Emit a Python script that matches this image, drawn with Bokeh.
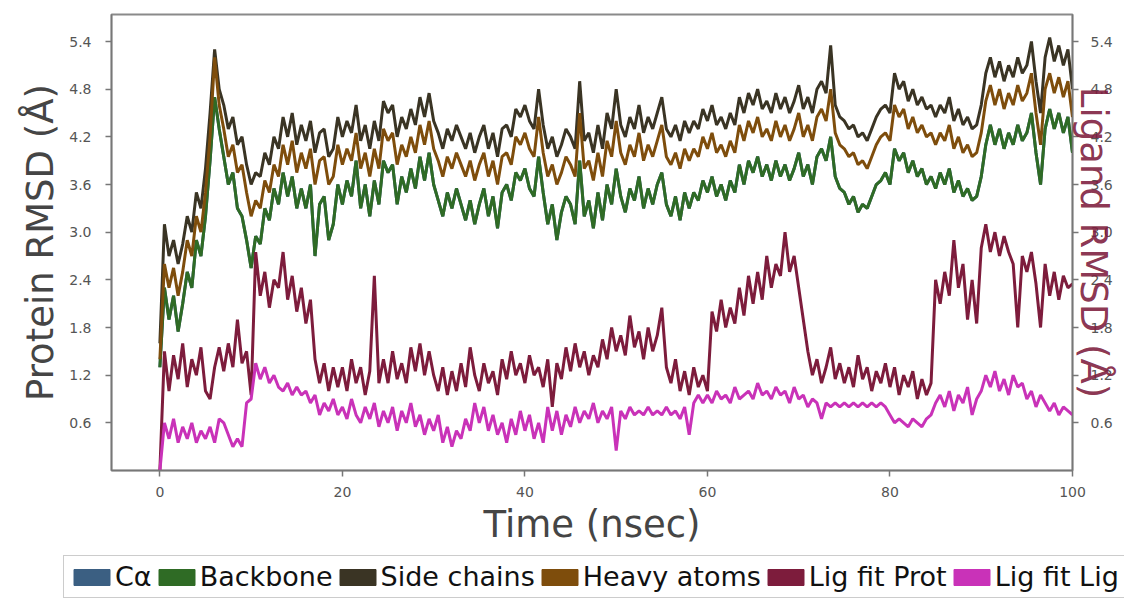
from bokeh.plotting import figure
from bokeh.models import (ColumnDataSource, Range1d, LinearAxis, FixedTicker,
                          Legend, LegendItem)
from bokeh.embed import file_html
from bokeh.resources import INLINE

# ---------------- data (0.5 ns steps) ----------------
time_ns = [i * 0.5 for i in range(201)]

side_chains = [
    1.6, 3.1, 2.7, 2.9, 2.6, 2.85, 3.2, 3.0, 3.5, 3.3,
    3.8, 4.5, 5.3, 4.8, 4.6, 4.3, 4.45, 4.1, 4.2, 3.85,
    3.6, 3.75, 3.7, 4.0, 3.85, 4.2, 4.05, 4.45, 4.2, 4.5,
    4.1, 4.35, 4.15, 4.4, 4.0, 4.25, 4.3, 3.95, 4.05, 4.45,
    4.2, 4.4, 4.25, 4.6, 4.15, 4.35, 4.05, 4.4, 4.15, 4.65,
    4.5, 4.6, 4.2, 4.45, 4.3, 4.55, 4.35, 4.7, 4.45, 4.75,
    4.4, 4.25, 4.05, 4.3, 4.15, 4.35, 4.2, 4.05, 4.25, 4.0,
    4.2, 4.35, 4.05, 4.25, 3.95, 4.3, 4.35, 4.2, 4.55, 4.45,
    4.6, 4.4, 4.3, 4.8, 4.35, 4.05, 4.2, 3.95, 4.1, 4.3,
    4.2, 4.05, 4.9, 4.15, 4.25, 4.0, 4.35, 4.05, 4.5, 4.3,
    4.8, 4.35, 4.2, 4.45, 4.3, 4.6, 4.25, 4.45, 4.3, 4.5,
    4.7, 4.3, 4.2, 4.35, 4.15, 4.4, 4.25, 4.4, 4.3, 4.55,
    4.4, 4.6, 4.35, 4.45, 4.3, 4.5, 4.35, 4.7, 4.5, 4.75,
    4.6, 4.8, 4.55, 4.65, 4.5, 4.75, 4.55, 4.7, 4.5, 4.65,
    4.85, 4.55, 4.7, 4.5, 4.8, 4.9, 4.75, 5.35, 4.6, 4.45,
    4.4, 4.3, 4.35, 4.2, 4.25, 4.15, 4.3, 4.45, 4.55, 4.6,
    4.5, 5.0, 4.8, 4.9, 4.65, 4.8, 4.6, 4.7, 4.55, 4.6,
    4.45, 4.6, 4.5, 4.7, 4.4, 4.55, 4.35, 4.45, 4.3, 4.35,
    4.6, 5.0, 5.2, 4.95, 5.15, 4.9, 5.1, 4.95, 5.2, 5.0,
    5.1, 5.4, 4.9, 4.5, 5.2, 5.45, 5.15, 5.35, 5.1, 5.3,
    4.8,
]

heavy_atoms = [
    1.4, 2.6, 2.3, 2.55, 2.2, 2.5, 2.9, 2.7, 3.2, 3.0,
    3.5, 4.2, 5.2, 4.6, 4.3, 3.95, 4.1, 3.75, 3.85, 3.5,
    3.2, 3.4, 3.3, 3.65, 3.5, 3.85, 3.7, 4.1, 3.85, 4.15,
    3.75, 4.0, 3.8, 4.05, 3.6, 3.9, 3.95, 3.6, 3.7, 4.1,
    3.85, 4.05, 3.9, 4.25, 3.8, 4.0, 3.7, 4.05, 3.8, 4.3,
    4.15, 4.25, 3.85, 4.1, 3.95, 4.2, 4.0, 4.35, 4.1, 4.4,
    4.05, 3.9, 3.7, 3.95, 3.8, 4.0, 3.85, 3.7, 3.9, 3.65,
    3.85, 4.0, 3.7, 3.9, 3.6, 3.95, 4.0, 3.85, 4.2, 4.1,
    4.25, 4.05, 3.95, 4.45, 4.0, 3.7, 3.85, 3.6, 3.75, 3.95,
    3.85, 3.7, 4.5, 3.8, 3.9, 3.65, 4.0, 3.7, 4.15, 3.95,
    4.4, 4.0, 3.85, 4.1, 3.95, 4.25, 3.9, 4.1, 3.95, 4.15,
    4.35, 3.95, 3.85, 4.0, 3.8, 4.05, 3.9, 4.05, 3.95, 4.2,
    4.05, 4.25, 4.0, 4.1, 3.95, 4.15, 4.0, 4.35, 4.15, 4.4,
    4.25, 4.45, 4.2, 4.3, 4.15, 4.4, 4.2, 4.35, 4.15, 4.3,
    4.5, 4.2, 4.35, 4.15, 4.45, 4.55, 4.4, 4.8, 4.25, 4.1,
    4.05, 3.95, 4.0, 3.85, 3.9, 3.8, 3.95, 4.1, 4.2, 4.25,
    4.15, 4.6, 4.45, 4.55, 4.3, 4.45, 4.25, 4.35, 4.2, 4.25,
    4.1, 4.25, 4.15, 4.35, 4.05, 4.2, 4.0, 4.1, 3.95, 4.0,
    4.25, 4.65, 4.85, 4.6, 4.8, 4.55, 4.75, 4.6, 4.85, 4.65,
    4.75, 5.0, 4.5, 4.1, 4.8, 5.0, 4.75, 4.95, 4.7, 4.9,
    4.45,
]

backbone = [
    1.3, 2.3, 1.9, 2.2, 1.75, 2.1, 2.5, 2.3, 2.9, 2.7,
    3.2, 3.9, 4.7, 4.3, 3.95, 3.6, 3.75, 3.3, 3.2, 2.9,
    2.55, 2.95, 2.85, 3.3, 3.15, 3.55, 3.35, 3.75, 3.45, 3.7,
    3.3, 3.55, 3.3, 3.6, 2.7, 3.35, 3.45, 2.9, 3.1, 3.6,
    3.35, 3.65, 3.45, 3.9, 3.3, 3.6, 3.2, 3.65, 3.35, 3.9,
    3.75, 3.85, 3.35, 3.7, 3.5, 3.8, 3.55, 3.95, 3.65, 4.0,
    3.6, 3.4, 3.2, 3.5, 3.3, 3.55, 3.35, 3.15, 3.4, 3.1,
    3.35, 3.55, 3.2, 3.45, 3.05, 3.5, 3.6, 3.4, 3.75, 3.65,
    3.8, 3.55, 3.45, 3.95, 3.5, 3.1, 3.35, 2.9, 3.25, 3.45,
    3.35, 3.1, 3.9, 3.2, 3.4, 3.05, 3.5, 3.15, 3.6, 3.35,
    3.8, 3.45, 3.25, 3.55, 3.4, 3.7, 3.3, 3.55, 3.35, 3.6,
    3.75, 3.35, 3.2, 3.45, 3.15, 3.5, 3.3, 3.5, 3.4, 3.65,
    3.5, 3.7, 3.45, 3.6, 3.4, 3.65, 3.5, 3.85, 3.6, 3.9,
    3.75, 3.95, 3.7, 3.85, 3.65, 3.9, 3.7, 3.85, 3.65, 3.8,
    4.0, 3.7, 3.85, 3.6, 3.95, 4.05, 3.9, 4.2, 3.7, 3.55,
    3.5, 3.35, 3.45, 3.25, 3.35, 3.3, 3.45, 3.6, 3.65, 3.75,
    3.6, 4.05, 3.9, 4.0, 3.75, 3.9, 3.7, 3.8, 3.6, 3.7,
    3.55, 3.75, 3.6, 3.8, 3.5, 3.65, 3.45, 3.55, 3.4, 3.45,
    3.7, 4.1, 4.35, 4.1, 4.3, 4.05, 4.25, 4.1, 4.35, 4.15,
    4.25, 4.5, 4.0, 3.6, 4.3, 4.55, 4.3, 4.5, 4.25, 4.45,
    4.0,
]

# C-alpha trace lies under the backbone trace in the picture
c_alpha = list(backbone)

lig_fit_prot = [
    0.0, 1.5, 1.0, 1.45, 1.15, 1.6, 1.05, 1.4, 1.2, 1.55,
    1.0, 0.9, 1.3, 1.55, 1.25, 1.6, 1.3, 1.9, 1.35, 1.5,
    0.95, 2.75, 2.2, 2.5, 2.05, 2.4, 2.3, 2.75, 2.15, 2.45,
    2.0, 2.3, 1.85, 2.15, 1.4, 1.1, 1.35, 1.0, 1.3, 1.05,
    1.3, 1.0, 1.4, 1.1, 1.3, 0.95, 1.25, 2.45, 1.1, 1.4,
    1.1, 1.5, 1.15, 1.35, 1.1, 1.55, 1.25, 1.6, 1.2, 1.5,
    1.2, 1.0, 1.3, 0.95, 1.25, 1.0, 1.35, 1.05, 1.55, 1.2,
    1.0, 1.35, 1.1, 1.25, 0.95, 1.4, 1.15, 1.5, 1.2, 1.35,
    1.1, 1.45, 1.2, 1.3, 1.05, 1.4, 0.8, 1.35, 1.15, 1.55,
    1.25, 1.6, 1.3, 1.5, 1.2, 1.45, 1.3, 1.65, 1.4, 1.8,
    1.5, 1.7, 1.45, 1.95, 1.55, 1.75, 1.4, 1.8, 1.5, 1.7,
    2.05, 1.3, 1.1, 1.4, 1.0, 1.25, 0.95, 1.3, 1.05, 1.2,
    1.0, 2.0, 1.75, 2.15, 1.8, 2.05, 1.85, 2.3, 1.95, 2.45,
    2.1, 2.5, 2.15, 2.7, 2.3, 2.6, 2.45, 3.0, 2.5, 2.7,
    2.3, 1.9, 1.5, 1.2, 1.4, 1.1, 1.3, 1.55, 1.15, 1.35,
    1.1, 1.3, 1.05, 1.45, 1.15, 1.3, 1.0, 1.25, 1.1, 1.35,
    1.05, 1.3, 0.95, 1.2, 1.05, 1.25, 0.9, 1.15, 0.95, 1.1,
    2.4, 2.1, 2.5, 2.2, 2.9, 2.3, 2.6, 1.9, 2.4, 1.85,
    2.8, 3.1, 2.75, 3.0, 2.7, 2.95, 2.75, 2.6, 1.8, 2.7,
    2.5, 2.75, 2.35, 1.8, 2.6, 2.2, 2.5, 2.15, 2.45, 2.3,
    2.35,
]

lig_fit_lig = [
    0.0, 0.6, 0.4, 0.65, 0.35, 0.55, 0.4, 0.6, 0.35, 0.5,
    0.4, 0.55, 0.35, 0.65, 0.6, 0.45, 0.3, 0.4, 0.3, 0.85,
    0.9, 1.35, 1.15, 1.3, 1.1, 1.2, 1.05, 1.0, 1.1, 0.95,
    1.05, 0.95, 1.0, 0.85, 0.95, 0.7, 0.85, 0.75, 0.9, 0.7,
    0.8, 0.65, 0.9, 0.7, 0.6, 0.8, 0.65, 0.85, 0.55, 0.75,
    0.6, 0.8, 0.5, 0.75, 0.6, 0.85, 0.55, 0.7, 0.45, 0.65,
    0.5, 0.7, 0.35, 0.55, 0.3, 0.5, 0.4, 0.65, 0.5, 0.85,
    0.6, 0.8, 0.5, 0.7, 0.45, 0.6, 0.35, 0.65, 0.45, 0.75,
    0.5, 0.7, 0.4, 0.6, 0.35, 0.8, 0.5, 0.75, 0.45, 0.7,
    0.55, 0.8, 0.6, 0.75, 0.65, 0.85, 0.6, 0.75, 0.65, 0.8,
    0.25, 0.75, 0.65, 0.8, 0.7, 0.75, 0.7, 0.8, 0.7, 0.75,
    0.7, 0.8, 0.7, 0.75, 0.65, 0.8, 0.45, 0.85, 0.95, 0.85,
    0.95, 0.85, 1.0, 0.9, 0.95, 0.85, 1.05, 0.9, 0.95, 1.0,
    0.9, 1.1, 0.95, 1.0, 0.9, 1.05, 0.95, 1.0, 0.85, 1.05,
    0.9, 0.95, 0.8, 0.9, 0.85, 0.65, 0.85, 0.8, 0.85, 0.8,
    0.85, 0.8, 0.85, 0.8, 0.85, 0.8, 0.85, 0.8, 0.85, 0.8,
    0.7, 0.6, 0.65, 0.6, 0.55, 0.65, 0.6, 0.55, 0.65, 0.7,
    0.85, 0.95, 0.8, 1.0, 0.75, 0.95, 0.85, 1.05, 0.7, 0.9,
    1.0, 1.2, 1.05, 1.25, 1.0, 1.15, 0.95, 1.2, 1.05, 1.1,
    0.9, 1.0, 0.8, 0.95, 0.85, 0.75, 0.85, 0.7, 0.8, 0.75,
    0.7,
]

series_names = ["Cα", "Backbone", "Side chains", "Heavy atoms", "Lig fit Prot", "Lig fit Lig"]
series_colors = ["#3b5f82", "#2f6b25", "#3a3424", "#7e4d0c", "#7d1c3c", "#c932b8"]

x_ticks = [0, 20, 40, 60, 80, 100]
y_ticks = [0.6, 1.2, 1.8, 2.4, 3.0, 3.6, 4.2, 4.8, 5.4]
y_tick_labels = ["0.6", "1.2", "1.8", "2.4", "3.0", "3.6", "4.2", "4.8", "5.4"]

# ---------------- main figure ----------------
FONT = "DejaVu Sans"
W = 1124
p = figure(width=W, height=555, output_backend="svg", toolbar_location=None,
           x_range=Range1d(-5.3, 100), y_range=Range1d(0, 5.74),
           min_border_left=111, min_border_right=W - 1072, min_border_top=14,
           min_border_bottom=85)
p.extra_y_ranges = {"lig": Range1d(0, 5.74)}
p.grid.visible = False
p.outline_line_color = "#8a8a8a"
p.outline_line_width = 2
p.background_fill_color = "white"
p.border_fill_color = "white"

src = ColumnDataSource(dict(t=time_ns, ca=c_alpha, bb=backbone, sc=side_chains,
                            ha=heavy_atoms, lp=lig_fit_prot, ll=lig_fit_lig))
cols = ["ca", "bb", "sc", "ha", "lp", "ll"]
for i, c in enumerate(cols):
    kw = {}
    if c in ("lp", "ll"):
        kw["y_range_name"] = "lig"
    p.line("t", c, source=src, color=series_colors[i], line_width=3, **kw)


def style_axis(ax):
    ax.major_label_text_font = FONT
    ax.major_label_text_font_size = "14px"
    ax.major_label_text_color = "#555555"
    ax.axis_line_color = "#777777"
    ax.axis_line_width = 1.5
    ax.major_tick_line_color = "#777777"
    ax.major_tick_line_width = 1.5
    ax.major_tick_out = 6
    ax.major_tick_in = 0
    ax.minor_tick_out = 0
    ax.minor_tick_in = 0
    ax.axis_label_text_font = FONT
    ax.axis_label_text_font_style = "normal"
    ax.axis_label_text_font_size = "37px"
    ax.axis_label_text_color = "#454545"


xa = p.xaxis[0]
style_axis(xa)
xa.ticker = FixedTicker(ticks=x_ticks)
xa.axis_label = "Time (nsec)"
xa.major_label_standoff = 10
xa.axis_label_standoff = 3

ya = p.yaxis[0]
style_axis(ya)
ya.ticker = FixedTicker(ticks=y_ticks)
ya.major_label_overrides = {t: l for t, l in zip(y_ticks, y_tick_labels)}
ya.axis_label = "Protein RMSD (Å)"
ya.major_label_standoff = 14
ya.axis_label_standoff = 4

ra = LinearAxis(y_range_name="lig")
style_axis(ra)
ra.ticker = FixedTicker(ticks=y_ticks)
ra.major_label_overrides = {t: l for t, l in zip(y_ticks, y_tick_labels)}
ra.major_label_standoff = 12
ra.axis_label = "Ligand RMSD (Å)"
ra.axis_label_text_color = "#7d1c3c"
ra.axis_label_text_alpha = 0.9
ra.axis_label_standoff = -44
p.add_layout(ra, "right")

# ---------------- legend strip (separate root, not frame-aligned) ----------------
lg = figure(width=W, height=44, output_backend="svg", toolbar_location=None,
            x_range=Range1d(0, 1), y_range=Range1d(0, 1),
            x_axis_location=None, y_axis_location=None,
            min_border_left=0, min_border_right=0, min_border_top=0,
            min_border_bottom=0)
lg.grid.visible = False
lg.outline_line_color = None
lg.background_fill_color = "white"
lg.border_fill_color = "white"

items = []
for name, col in zip(series_names, series_colors):
    # swatch renderer kept outside the visible range; only its legend patch shows
    r = lg.quad(left=[5], right=[6], top=[6], bottom=[5], fill_color=col, line_color=col)
    items.append(LegendItem(label=name, renderers=[r]))
leg = Legend(items=items, orientation="horizontal", location=(63, 1),
             glyph_width=45, glyph_height=20, label_standoff=1, spacing=2,
             padding=5, margin=0,
             label_text_font=FONT, label_text_font_size="27px",
             label_text_color="#111111",
             border_line_color="#9a9a9a", border_line_width=1.5,
             background_fill_color="white", background_fill_alpha=1.0)
lg.add_layout(leg, "center")

open("out.html", "w").write(file_html([p, lg], INLINE))
